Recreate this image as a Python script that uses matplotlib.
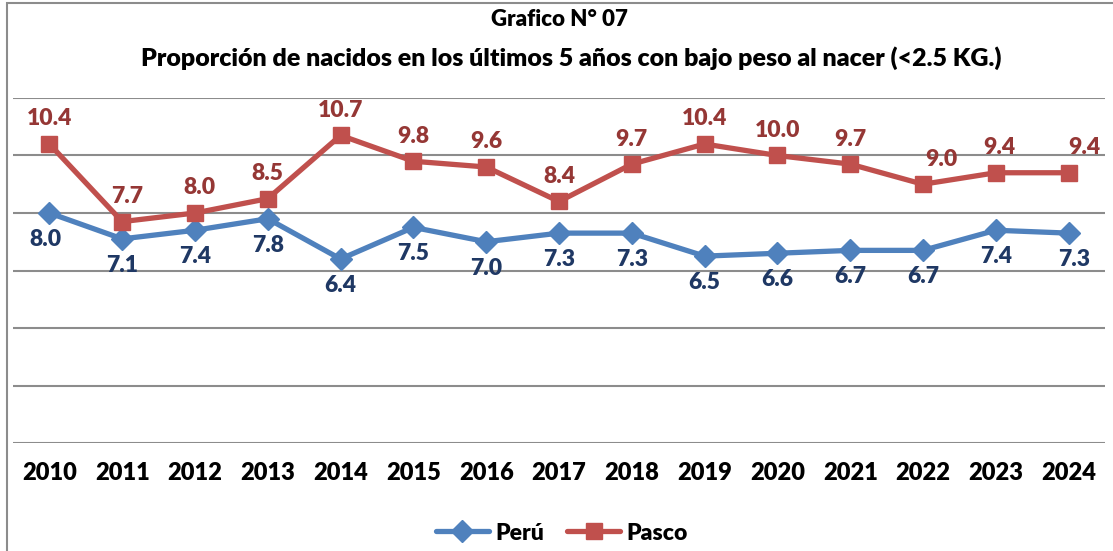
import matplotlib
matplotlib.use("Agg")
import matplotlib.pyplot as plt
from matplotlib.patches import Rectangle

plt.rcParams['font.family'] = ['Lato', 'DejaVu Sans']

years = ['2010', '2011', '2012', '2013', '2014', '2015', '2016', '2017',
         '2018', '2019', '2020', '2021', '2022', '2023', '2024']
peru = [8.0, 7.1, 7.4, 7.8, 6.4, 7.5, 7.0, 7.3, 7.3, 6.5, 6.6, 6.7, 6.7, 7.4, 7.3]
pasco = [10.4, 7.7, 8.0, 8.5, 10.7, 9.8, 9.6, 8.4, 9.7, 10.4, 10.0, 9.7, 9.0, 9.4, 9.4]

W, H = 1113, 551
fig = plt.figure(figsize=(W / 100, H / 100), dpi=100)
ax = fig.add_axes([13 / W, 1 - 443 / H, (1105 - 13) / W, (443 - 98) / H])

blue = '#4F81BD'
red = '#C0504D'
x = list(range(len(years)))
wt = 'heavy'

ax.plot(x, peru, color=blue, lw=3.8, marker='D', ms=11, zorder=3, label='Perú',
        solid_capstyle='round')
ax.plot(x, pasco, color=red, lw=3.8, marker='s', ms=12, zorder=3, label='Pasco',
        solid_capstyle='round')

# label nudges (pixels) where Excel shifted them sideways
peru_dx = [-4, 0, 0, 0, 0, 0, 0, 0, 0, 0, 0, 0, 0, 0, 6]
pasco_dx = [0, 5, 4, 0, 0, 0, 0, 0, 0, 0, 0, 0, 18, 4, 16]
for i in x:
    ax.annotate(f'{peru[i]:.1f}', (i, peru[i]), xytext=(peru_dx[i] * 0.72, -19),
                textcoords='offset points', ha='center', va='center',
                fontsize=16.5, fontweight=wt, color='#1F3864')
    ax.annotate(f'{pasco[i]:.1f}', (i, pasco[i]), xytext=(pasco_dx[i] * 0.72, 18),
                textcoords='offset points', ha='center', va='center',
                fontsize=16.5, fontweight=wt, color='#953735')

ax.set_xlim(-0.5, len(years) - 0.5)
ax.set_ylim(0, 12)
ax.set_yticks(range(0, 13, 2))
ax.yaxis.grid(True, color='#8C8C8C', lw=1.5)
ax.set_axisbelow(True)
ax.tick_params(axis='y', left=False, labelleft=False)
ax.tick_params(axis='x', length=0, pad=14)
ax.set_xticks(x)
ax.set_xticklabels(years, fontsize=17, fontweight=wt)
for s in ax.spines.values():
    s.set_visible(False)

fig.text(0.503, 1 - 20 / H, 'Grafico N° 07', ha='center', va='center',
         fontsize=16, fontweight=wt)
fig.text(0.513, 1 - 58 / H,
         'Proporción de nacidos en los últimos 5 años con bajo peso al nacer (<2.5 KG.)',
         ha='center', va='center', fontsize=18, fontweight=wt)

fig.legend(loc='center', bbox_to_anchor=(0.505, 1 - 533 / H), ncol=2, frameon=False,
           prop={'size': 16.5, 'weight': wt}, handlelength=2.3, columnspacing=1.0,
           handletextpad=0.3)

fig.patches.append(Rectangle((7 / W, -0.1), 1.2, 1 - 3 / H + 0.1, transform=fig.transFigure,
                             fill=False, edgecolor='#8C8C8C', lw=1.5))

fig.savefig('out.png', dpi=100)
